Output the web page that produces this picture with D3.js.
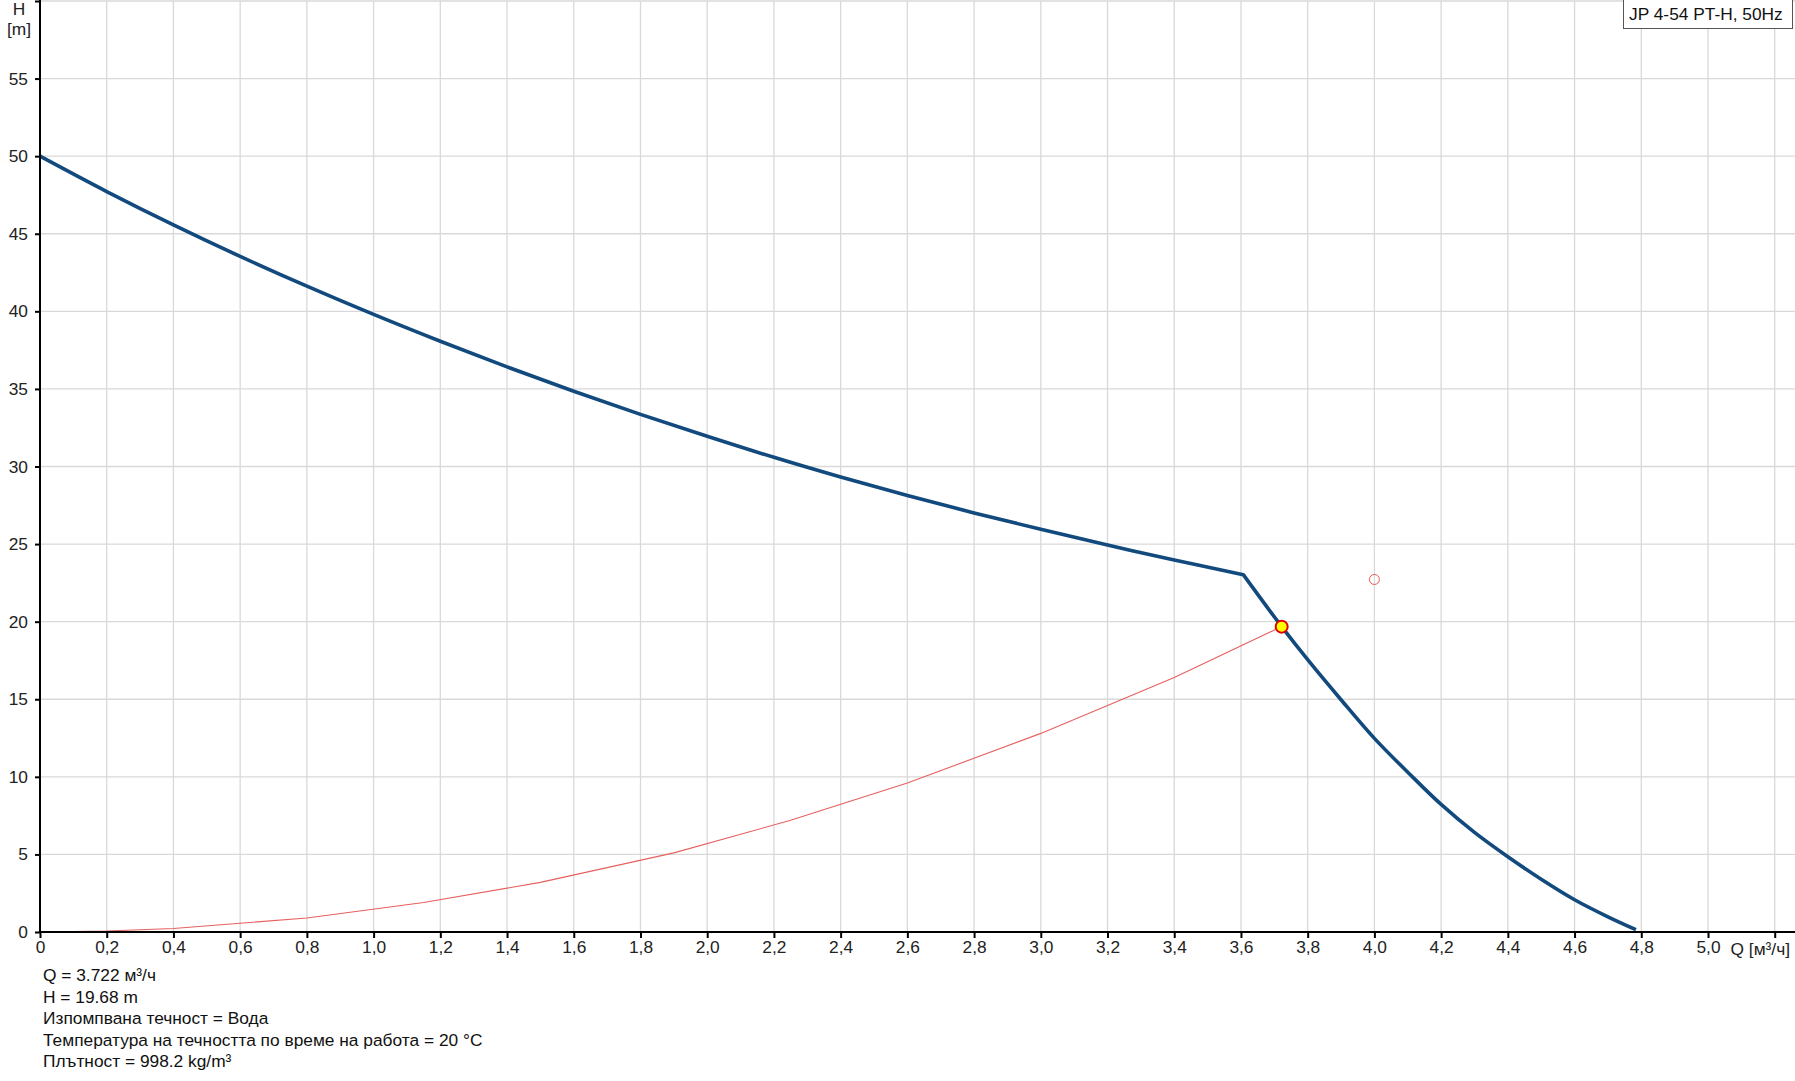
<!DOCTYPE html>
<html>
<head>
<meta charset="utf-8">
<script src="https://cdn.jsdelivr.net/npm/d3@7"></script>
<style>
  html, body { margin: 0; padding: 0; background: #fff; }
  svg { display: block; font-family: "Liberation Sans", Arial, sans-serif; }
</style>
</head>
<body>
<svg id="chart" width="1795" height="1081"></svg>
<script>
// ---- data ----
const pumpQ1 = [0, 0.2, 0.4, 0.6, 0.8, 1.0, 1.2, 1.4, 1.6, 1.8, 2.0, 2.2, 2.4, 2.6, 2.8, 3.0, 3.2, 3.4, 3.607];
const pumpH1 = [50.0, 47.72, 45.57, 43.54, 41.62, 39.80, 38.07, 36.42, 34.85, 33.36, 31.95, 30.59, 29.32, 28.13, 27.01, 25.95, 24.94, 23.97, 23.03];
const pumpQ2 = [3.607, 3.722, 3.8, 3.9, 4.0, 4.1, 4.2, 4.3, 4.4, 4.5, 4.6, 4.7, 4.784];
const pumpH2 = [23.03, 19.68, 17.55, 14.97, 12.48, 10.3, 8.22, 6.42, 4.85, 3.4, 2.08, 0.98, 0.15];
const sysQ = [0, 0.2, 0.4, 0.8, 1.15, 1.5, 1.9, 2.25, 2.6, 3.0, 3.4, 3.722];
const sysH = [0, 0.06, 0.23, 0.9, 1.9, 3.2, 5.1, 7.2, 9.6, 12.8, 16.4, 19.68];
const dutyPoint = { q: 3.722, h: 19.68 };
const requestedPoint = { q: 4.0, h: 22.72 };
const xTicks = [0, 0.2, 0.4, 0.6, 0.8, 1.0, 1.2, 1.4, 1.6, 1.8, 2.0, 2.2, 2.4, 2.6, 2.8, 3.0, 3.2, 3.4, 3.6, 3.8, 4.0, 4.2, 4.4, 4.6, 4.8, 5.0, 5.2];
const yTicks = [0, 5, 10, 15, 20, 25, 30, 35, 40, 45, 50, 55, 60];
const xAxisTitle = "Q [м³/ч]";
const yAxisTitle = ["H", "[m]"];
const legendText = "JP 4-54 PT-H, 50Hz";
const infoLines = [
  "Q = 3.722 м³/ч",
  "H = 19.68 m",
  "Изпомпвана течност = Вода",
  "Температура на течността по време на работа = 20 °C",
  "Плътност = 998.2 kg/m³"
];

// ---- layout ----
const FS = "17.33px";
const svg = d3.select("#chart");
const W = 1795;
const x = d3.scaleLinear().domain([0, 5]).range([40, 1708]);
const y = d3.scaleLinear().domain([0, 60]).range([932, 1]);
const x0 = x(0), y0 = y(0);

// grid
const grid = svg.append("g");
grid.selectAll("line.v").data(xTicks.filter(d => d > 0)).join("line")
  .attr("x1", d => x(d)).attr("x2", d => x(d))
  .attr("y1", y(60)).attr("y2", y0)
  .attr("stroke", "#d9d9d9").attr("stroke-width", 1.3);
grid.selectAll("line.h").data(yTicks.filter(d => d > 0)).join("line")
  .attr("x1", x0).attr("x2", W)
  .attr("y1", d => y(d)).attr("y2", d => y(d))
  .attr("stroke", "#d9d9d9").attr("stroke-width", 1.3);

// system curve (thin red)
const sysData = sysQ.map((q, i) => [q, sysH[i]]);
svg.append("path")
  .attr("d", d3.line().x(d => x(d[0])).y(d => y(d[1]))(sysData))
  .attr("fill", "none").attr("stroke", "#e6605f").attr("stroke-width", 1.1);

// pump curve (blue), sharp knee between two smooth segments
const seg1 = pumpQ1.map((q, i) => [q, pumpH1[i]]);
const seg2 = pumpQ2.map((q, i) => [q, pumpH2[i]]);
const lg = d3.line().x(d => x(d[0])).y(d => y(d[1])).curve(d3.curveCatmullRom.alpha(0.5));
const dPath = lg(seg1) + lg(seg2).replace(/^M/, "L");
svg.append("path")
  .attr("d", dPath)
  .attr("fill", "none").attr("stroke", "#124a7e").attr("stroke-width", 3.6)
  .attr("stroke-linejoin", "round");

// axes
const fmt = d => d === 0 ? "0" : d3.format(".1f")(d).replace(".", ",");
const xAxis = d3.axisBottom(x).tickValues(xTicks)
  .tickFormat(d => d >= 5.1 ? "" : fmt(d)).tickSize(6).tickPadding(3);
const gx = svg.append("g").attr("transform", `translate(0,${y0})`).call(xAxis);
gx.select(".domain").remove();
gx.append("line").attr("x1", x0).attr("x2", W).attr("y1", 0).attr("y2", 0)
  .attr("stroke", "#000").attr("stroke-width", 2);
gx.selectAll(".tick line").attr("stroke", "#000").attr("stroke-width", 2);
gx.selectAll(".tick text").attr("fill", "#222").style("font-size", FS)
  .style("font-family", "'Liberation Sans', Arial, sans-serif");

const yAxis = d3.axisLeft(y).tickValues(yTicks)
  .tickFormat(d => d >= 60 ? "" : String(d)).tickSize(5).tickPadding(7);
const gy = svg.append("g").attr("transform", `translate(${x0},0)`).call(yAxis);
gy.select(".domain").remove();
gy.append("line").attr("x1", 0).attr("x2", 0).attr("y1", 0).attr("y2", y0)
  .attr("stroke", "#000").attr("stroke-width", 2);
gy.selectAll(".tick line").attr("stroke", "#000").attr("stroke-width", 2);
gy.selectAll(".tick text").attr("fill", "#222").style("font-size", FS)
  .style("font-family", "'Liberation Sans', Arial, sans-serif");

// axis titles
svg.append("text").attr("x", 1790).attr("y", y0 + 23)
  .attr("text-anchor", "end").attr("fill", "#222").style("font-size", FS)
  .text(xAxisTitle);
svg.selectAll("text.ytitle").data(yAxisTitle).join("text")
  .attr("x", 19).attr("y", (d, i) => 15 + i * 20)
  .attr("text-anchor", "middle").attr("fill", "#222").style("font-size", FS)
  .text(d => d);

// points
svg.append("circle").attr("cx", x(requestedPoint.q)).attr("cy", y(requestedPoint.h)).attr("r", 5)
  .attr("fill", "none").attr("stroke", "#ee5555").attr("stroke-width", 1);
svg.append("circle").attr("cx", x(dutyPoint.q)).attr("cy", y(dutyPoint.h)).attr("r", 6)
  .attr("fill", "#ffff00").attr("stroke", "#e00000").attr("stroke-width", 2);

// legend box
const lgG = svg.append("g");
lgG.append("rect").attr("x", 1623.5).attr("y", -1).attr("width", 169).attr("height", 29.5)
  .attr("fill", "#fff").attr("stroke", "#555").attr("stroke-width", 1);
lgG.append("text").attr("x", 1629).attr("y", 20).attr("fill", "#111")
  .style("font-size", FS).text(legendText);

// info text
svg.selectAll("text.info").data(infoLines).join("text")
  .attr("x", 43).attr("y", (d, i) => 981 + i * 21.5)
  .attr("fill", "#111").style("font-size", FS)
  .text(d => d);
</script>
</body>
</html>
